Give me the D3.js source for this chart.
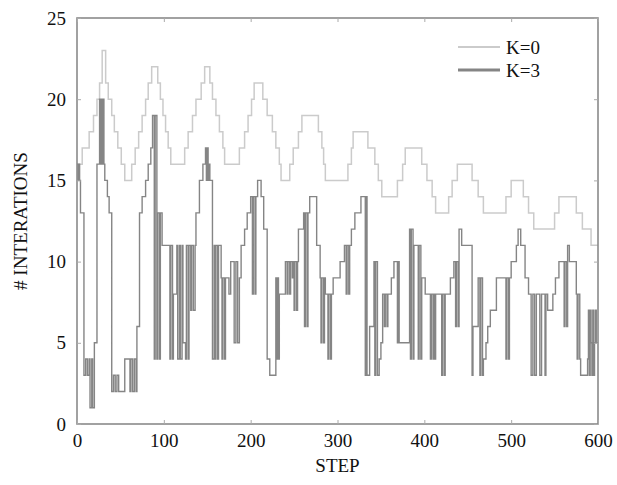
<!DOCTYPE html>
<html>
<head>
<meta charset="utf-8">
<script src="https://cdn.jsdelivr.net/npm/d3@7"></script>
<style>
  html, body { margin: 0; padding: 0; background: #fff; }
  svg { display: block; }
  svg text { font-family: "Liberation Serif", "Times New Roman", Times, "DejaVu Serif", serif; fill: #111; }
</style>
</head>
<body>
<div id="chart"></div>
<script>
// ---- data ----
const seriesNames = ["K=0", "K=3"];
const xTicks = [0, 100, 200, 300, 400, 500, 600];
const yTicks = [0, 5, 10, 15, 20, 25];

// K=0 : step positions where the value changes, and the value from there on
const k0Steps  = [0, 6, 14, 19, 23, 26, 29, 33, 36, 40, 43, 47, 51, 55, 63, 67, 71, 75, 79, 82, 86, 93, 96, 99, 102, 105, 108,
                  124, 128, 133, 137, 143, 147, 153, 156, 160, 164, 168, 170, 187, 193, 197, 201, 204, 214, 219, 225, 229, 233, 235,
                  245, 249, 255, 259, 278, 282, 284, 286, 312, 316, 318, 335, 343, 347, 351, 369, 375, 378, 397, 403, 409, 413,
                  428, 432, 438, 455, 462, 468, 494, 500, 514, 520, 526, 550, 555, 575, 582, 592];
const k0Values = [16, 17, 18, 19, 20, 21, 23, 21, 20, 19, 18, 17, 16, 15, 16, 17, 18, 19, 20, 21, 22, 21, 20, 19, 18, 17, 16,
                  17, 18, 19, 20, 21, 22, 21, 20, 19, 18, 17, 16, 17, 18, 19, 20, 21, 20, 19, 18, 17, 16, 15,
                  16, 17, 18, 19, 18, 17, 16, 15, 16, 17, 18, 17, 16, 15, 14, 15, 16, 17, 16, 15, 14, 13,
                  14, 15, 16, 15, 14, 13, 14, 15, 14, 13, 12, 13, 14, 13, 12, 11];

// K=3
const k3Steps  = [0, 1, 2, 3, 4, 8, 10, 12, 14, 15, 17, 18, 20, 23, 26, 27, 28, 29, 30, 31, 32, 35, 37,
                  40, 42, 44, 46, 48, 55, 61, 62, 64, 66, 68, 69, 72, 75, 79, 82, 85, 87, 89, 90, 92, 93, 95, 96, 98,
                  107, 108, 110, 111, 115, 116, 118, 119, 121, 122, 125, 126, 128, 129, 131, 132, 134, 136, 137, 141, 145,
                  148, 149, 150, 151, 152, 153, 156, 158, 159, 160, 162, 163, 166, 167, 168, 170, 171, 175, 177, 181, 183, 185,
                  187, 189, 193, 196, 200, 202, 203, 205, 206, 208, 212, 215, 219, 222, 229, 230, 231, 232, 233, 240,
                  242, 243, 245, 246, 248, 249, 250, 251, 253, 254, 255, 261, 262, 263, 265, 266, 268, 276, 280, 281, 282, 284, 285,
                  286, 289, 290, 292, 293, 295, 303, 308, 310, 311, 313, 314, 316, 320, 327, 332, 333, 334, 337, 342, 343, 344, 346,
                  348, 350, 352, 354, 355, 357, 358, 362, 365, 369, 370, 371, 383, 384, 385, 387, 388, 393, 394, 396, 397, 401,
                  407, 408, 410, 411, 412, 413, 420, 421, 423, 424, 430, 434, 436, 437, 439, 440, 443, 455, 456, 462, 464, 465, 467,
                  468, 471, 473, 476, 483, 494, 495, 497, 498, 500, 506, 508, 511, 516, 520, 523, 525, 527, 529, 533, 535, 539, 540,
                  542, 548, 551, 555, 561, 562, 564, 565, 567, 575, 576, 577, 579, 580, 588, 589, 590, 591, 592, 593, 594, 595, 596, 597, 598];
const k3Values = [16, 15, 16, 15, 13, 3, 4, 3, 4, 1, 4, 1, 5, 16, 20, 16, 20, 16, 20, 16, 15, 14, 13,
                  2, 3, 2, 3, 2, 4, 2, 4, 2, 4, 2, 6, 13, 14, 15, 16, 17, 19, 4, 19, 4, 13, 4, 13, 11,
                  4, 11, 4, 8, 11, 4, 11, 4, 11, 5, 4, 11, 4, 11, 7, 11, 7, 11, 13, 15, 16,
                  17, 15, 17, 15, 16, 15, 4, 11, 4, 11, 4, 11, 9, 4, 9, 4, 9, 8, 10, 5, 10, 5,
                  9, 11, 12, 13, 14, 8, 14, 8, 14, 15, 14, 12, 4, 3, 9, 4, 9, 4, 8, 10,
                  8, 10, 8, 10, 9, 10, 7, 10, 7, 10, 12, 13, 6, 13, 6, 13, 14, 11, 9, 5, 9, 5, 9,
                  8, 4, 8, 4, 8, 9, 10, 11, 8, 11, 8, 11, 12, 13, 14, 3, 14, 3, 6, 10, 3, 10, 3,
                  4, 5, 8, 6, 8, 6, 8, 9, 10, 5, 10, 5, 12, 4, 12, 4, 11, 4, 11, 4, 9, 8,
                  4, 8, 4, 8, 4, 8, 3, 8, 3, 8, 9, 10, 6, 10, 6, 12, 11, 3, 6, 9, 3, 9, 3,
                  4, 5, 6, 7, 9, 4, 9, 4, 9, 10, 11, 12, 11, 9, 8, 3, 8, 3, 8, 3, 8, 3, 8,
                  7, 8, 9, 10, 6, 10, 6, 11, 10, 8, 4, 8, 4, 3, 4, 7, 3, 7, 5, 3, 7, 3, 5, 7, 5];

// ---- chart ----
const W = 617, H = 485;
const xMax = 600;
const FONT = '"Liberation Serif", "Times New Roman", Times, "DejaVu Serif", serif';
const svg = d3.select("#chart").append("svg").attr("width", W).attr("height", H)
  .style("font-family", FONT);

const x = d3.scaleLinear().domain([0, 600]).range([77, 598]);
const y = d3.scaleLinear().domain([0, 25]).range([424, 18]);

function toPoints(steps, values) {
  const pts = steps.map((s, i) => [s, values[i]]);
  pts.push([xMax, values[values.length - 1]]);
  return pts;
}

const line = d3.line().x(d => x(d[0])).y(d => y(d[1])).curve(d3.curveStepAfter);

const colors = ["#cbcbcb", "#858585"];
const widths = [1.5, 1.4];

svg.append("path").datum(toPoints(k0Steps, k0Values))
  .attr("d", line).attr("fill", "none").attr("stroke", colors[0]).attr("stroke-width", widths[0]);
svg.append("path").datum(toPoints(k3Steps, k3Values))
  .attr("d", line).attr("fill", "none").attr("stroke", colors[1]).attr("stroke-width", widths[1]);

// frame
svg.append("rect").attr("x", x(0)).attr("y", y(25)).attr("width", x(600) - x(0)).attr("height", y(0) - y(25))
  .attr("fill", "none").attr("stroke", "#8a8a8a").attr("stroke-width", 1.6);

// axes (ticks inward, no domain)
const fs = 19;
function styleAxis(g) {
  g.select(".domain").remove();
  g.selectAll("line").attr("stroke", "#aaa");
  g.selectAll("text").attr("font-size", fs).attr("fill", "#111").style("font-family", FONT);
}
const gx = svg.append("g").attr("transform", `translate(0,${y(0)})`)
  .call(d3.axisBottom(x).tickValues(xTicks).tickSize(-4).tickPadding(10));
styleAxis(gx);
const gy = svg.append("g").attr("transform", `translate(${x(0)},0)`)
  .call(d3.axisLeft(y).tickValues(yTicks).tickSize(-4).tickPadding(11));
styleAxis(gy);
const gxt = svg.append("g").attr("transform", `translate(0,${y(25)})`)
  .call(d3.axisTop(x).tickValues(xTicks).tickSize(-4).tickFormat(""));
styleAxis(gxt);
const gyr = svg.append("g").attr("transform", `translate(${x(600)},0)`)
  .call(d3.axisRight(y).tickValues(yTicks).tickSize(-4).tickFormat(""));
styleAxis(gyr);

// axis titles
svg.append("text").attr("x", (x(0) + x(600)) / 2).attr("y", 472).attr("text-anchor", "middle")
  .attr("font-size", fs).style("font-family", FONT).text("STEP");
svg.append("text").attr("transform", `translate(27,${(y(0) + y(25)) / 2}) rotate(-90)`)
  .attr("text-anchor", "middle").attr("font-size", fs).style("font-family", FONT).text("# INTERATIONS");

// legend
const lg = svg.append("g");
const legY = [47, 70];
seriesNames.forEach((name, i) => {
  lg.append("line").attr("x1", 458).attr("x2", 500).attr("y1", legY[i]).attr("y2", legY[i])
    .attr("stroke", colors[i]).attr("stroke-width", i === 0 ? 1.8 : 3);
  lg.append("text").attr("x", 506).attr("y", legY[i]).attr("dy", "0.35em").attr("font-size", fs)
    .style("font-family", FONT).text(name);
});
</script>
</body>
</html>
